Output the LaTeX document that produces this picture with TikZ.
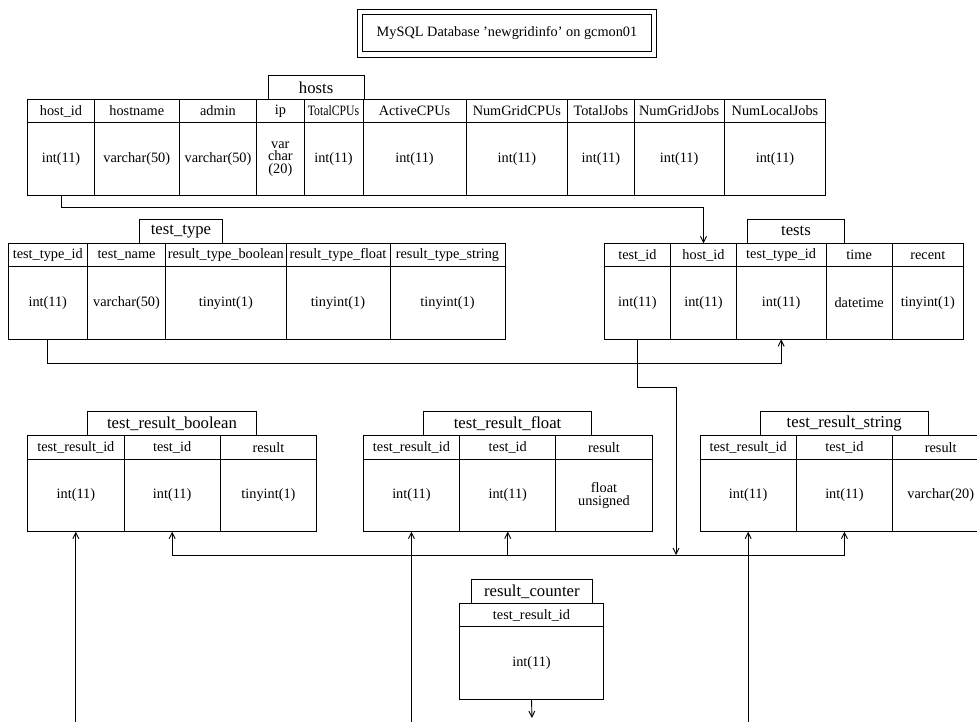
\documentclass[tikz,border=0pt]{standalone}
\usepackage{fontspec}
\setmainfont{Liberation Serif}
\usetikzlibrary{arrows.meta,positioning}
\tikzset{
  cell/.style={draw,line width=0.9pt,outer sep=0pt,inner sep=1pt,align=center,
    font=\fontsize{14.3}{12.5}\selectfont,anchor=north west},
  hcell/.style={cell,minimum height=23.5pt},
  tcell/.style={cell,minimum height=72.5pt},
  tab/.style={cell,minimum height=24pt,font=\fontsize{16.7}{18}\selectfont,anchor=south west},
  frame/.style={draw,line width=0.8pt,outer sep=0pt},
  fk/.style={-{Straight Barb[length=6pt,width=6pt]},line width=0.9pt},
  node distance=0pt
}

\begin{document}
\begin{tikzpicture}[x=1pt,y=-1pt]
  \useasboundingbox (0,0) rectangle (977,721);
  \clip (0,0) rectangle (977,721);
  \node[frame,minimum width=299.4pt,minimum height=48pt] (title-frame) at (507,33) {};
  \node[frame,minimum width=288.7pt,minimum height=36.7pt,font=\fontsize{14.3}{16}\selectfont]
    (title) at (title-frame.center) {MySQL Database 'newgridinfo' on gcmon01};
  % hosts
  \node[tab,minimum width=95.7pt] (hosts) at (268.3,99.3) {hosts};
  \foreach \x/\w/\head/\type [count=\i] in {27.7/66.6/host\_id/int(11), 94.3/85/hostname/varchar(50),
      179.3/77.4/admin/varchar(50), 256.7/47.3/ip/{var\\char\\(20)}, 304/59/{\scalebox{0.82}[1]{TotalCPUs}}/int(11),
      363/103/ActiveCPUs/int(11), 466/101.7/NumGridCPUs/int(11), 567.7/66.3/TotalJobs/int(11),
      634/90.3/NumGridJobs/int(11), 724.3/101.4/NumLocalJobs/int(11)}{
    \node[hcell,minimum width=\w pt] (hosts-h\i) at (\x,99.3) {\head};
    \node[tcell,minimum width=\w pt] (hosts-\i) at (\x,122.8) {\type};
  }
  % test_type
  \node[tab,minimum width=83.4pt] (type) at (139.3,243.3) {test\_type};
  \foreach \x/\w/\head/\type [count=\i] in {8.3/79/test\_type\_id/int(11), 87.3/78.4/test\_name/varchar(50),
      165.7/120.3/result\_type\_boolean/tinyint(1), 286/104/result\_type\_float/tinyint(1),
      390/115/result\_type\_string/tinyint(1)}{
    \node[hcell,minimum width=\w pt] (type-h\i) at (\x,243.3) {\head};
    \node[tcell,minimum width=\w pt] (type-\i) at (\x,266.8) {\type};
  }
  % tests
  \node[tab,minimum width=96.6pt] (tests) at (747.7,243.3) {tests};
  \foreach \x/\w/\head/\type [count=\i] in {604/66.7/test\_id/int(11), 670.7/65.6/host\_id/int(11),
      736.3/89.7/test\_type\_id/int(11), 826/66.3/time/datetime, 892.3/71/recent/tinyint(1)}{
    \node[hcell,minimum width=\w pt] (tests-h\i) at (\x,243.3) {\head};
    \node[tcell,minimum width=\w pt] (tests-\i) at (\x,266.8) {\type};
  }
  % result tables
  \foreach \t/\x/\name/\res in {bool/27.7/test\_result\_boolean/tinyint(1),
      flt/363.3/test\_result\_float/{float\\unsigned}, str/700/test\_result\_string/varchar(20)}{
    \node[tab,minimum width=168.5pt] (\t) at (\x+60,435.7) {\name};
    \node[hcell,minimum width=96.3pt] (\t-h1) at (\x,435.7) {test\_result\_id};
    \node[hcell,minimum width=96.3pt,right=of \t-h1] (\t-h2) {test\_id};
    \node[hcell,minimum width=96.3pt,right=of \t-h2] (\t-h3) {result};
    \node[tcell,minimum width=96.3pt,below=of \t-h1] (\t-1) {int(11)};
    \node[tcell,minimum width=96.3pt,below=of \t-h2] (\t-2) {int(11)};
    \node[tcell,minimum width=96.3pt,below=of \t-h3] (\t-3) {\res};
  }
  % result_counter
  \node[tab,minimum width=120.3pt] (counter) at (471.7,603.3) {result\_counter};
  \node[hcell,minimum width=144.4pt] (cnt-h1) at (459.3,603.3) {test\_result\_id};
  \node[tcell,minimum width=144.4pt,below=of cnt-h1] (cnt-1) {int(11)};
  % keys
  \coordinate (bus) at (676,555);
  \coordinate (bot) at (0,726);
  \coordinate (cnt-out) at (532,718);
  \draw[fk] (hosts-1.south) -- ++(0,11.7) -| (tests-h2.north);
  \draw[fk] (type-1.south) -- ++(0,24) -| (tests-3.south);
  \draw[fk] (tests-1.south) -- ++(0,47.7) -| (bus);
  \draw[fk] (bus) -| (bool-2.south);
  \draw[fk] (bus) -| (str-2.south);
  \draw[fk] (flt-2.south |- bus) -- (flt-2.south);
  \draw[fk] (bool-1.south |- bot) -- (bool-1.south);
  \draw[fk] (flt-1.south |- bot) -- (flt-1.south);
  \draw[fk] (str-1.south |- bot) -- (str-1.south);
  \draw[fk] (cnt-1.south) -- (cnt-out);
\end{tikzpicture}
\end{document}
